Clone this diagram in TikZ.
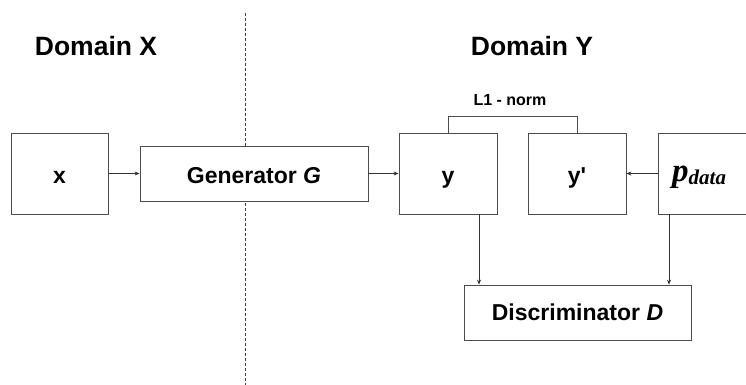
\documentclass[tikz,border=0pt]{standalone}
\usepackage{fontspec}
\setmainfont{Liberation Sans}
\newfontfamily\serifbi{Liberation Serif}[UprightFont=* Bold Italic]
\usetikzlibrary{arrows.meta,calc}
\tikzset{
  box/.style={draw=black!70, line width=0.8pt, fill=white, inner sep=0pt, font=\fontsize{23}{27}\selectfont\bfseries},
  mid/.style={text height=19pt, text depth=0pt},
  arr/.style={draw=black!80, line width=0.7pt, -{Stealth[length=5pt,width=4pt]}},
  conn/.style={draw=black!70, line width=0.8pt},
  lbl/.style={inner sep=0pt, font=\bfseries}
}
\begin{document}
\begin{tikzpicture}[x=1pt,y=-1pt]
\useasboundingbox (0,0) rectangle (746,385);
\clip (0,0) rectangle (746,385);
\fill[white] (0,0) rectangle (746,385);
\coordinate (dtop) at (245,13);
\coordinate (dbot) at (245,385);
\draw[black!75, line width=0.7pt, dash pattern=on 3pt off 2pt] (dtop) -- (dbot);

\node[lbl, font=\fontsize{26.5}{30}\selectfont\bfseries] (domx) at (96,46) {Domain X};
\node[lbl, font=\fontsize{26.5}{30}\selectfont\bfseries] (domy) at (532,46) {Domain Y};
\node[lbl, font=\fontsize{16}{19}\selectfont\bfseries] (l1) at (510,100) {L1 - norm};

\node[box, mid, minimum width=97pt, minimum height=81pt] (xb) at (59.5,173.5) {x};
\node[box, mid, minimum width=228pt, minimum height=55pt] (gb) at (254,173.5) {Generator \textit{G}};
\node[box, mid, minimum width=98pt, minimum height=81pt] (yb) at (448,173.5) {y};
\node[box, mid, minimum width=98pt, minimum height=81pt] (ypb) at (577,173.5) {y\textquotesingle};
\node[box, minimum width=98pt, minimum height=81pt] (pb) at (707,173.5) {};
\node[inner sep=0pt, anchor=base west] (ptxt) at (672,181) {\serifbi\fontsize{33}{36}\selectfont p\fontsize{21}{24}\selectfont\raisebox{-3pt}{data}};
\node[box, minimum width=227pt, minimum height=55pt] (db) at (577.5,312.5) {Discriminator \textit{D}};

\draw[arr] (xb.east) -- (gb.west);
\draw[arr] (gb.east) -- (yb.west);
\draw[arr] (pb.west) -- (ypb.east);
\draw[conn] (yb.north) -- ++(0,-16) -| (ypb.north);
\draw[arr] ([xshift=31pt]yb.south) -- ([xshift=31pt]yb.south |- db.north);
\draw[arr] ([xshift=-38pt]pb.south) -- ([xshift=-38pt]pb.south |- db.north);
\end{tikzpicture}
\end{document}
